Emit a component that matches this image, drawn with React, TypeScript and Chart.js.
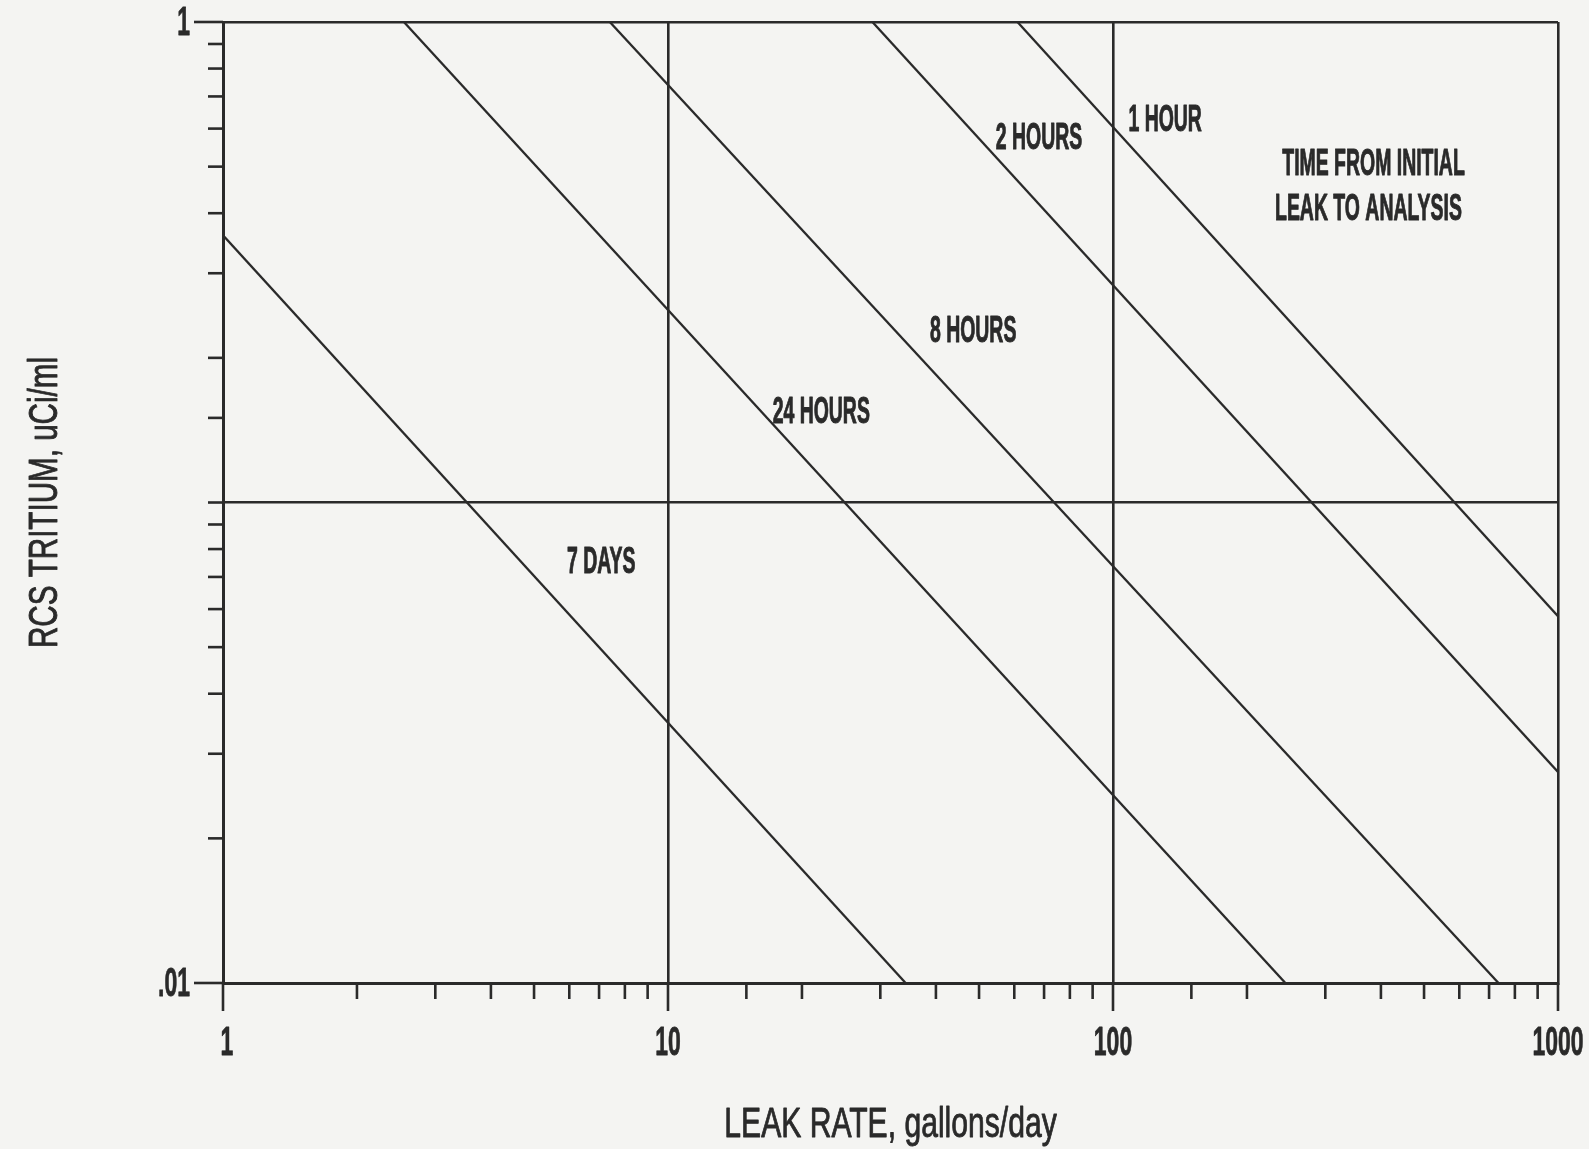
import React, { useEffect, useRef } from 'react';
import { Chart, registerables } from 'chart.js';

Chart.register(...registerables);

// ---- data ----
const seriesNames = ['7 DAYS', '24 HOURS', '8 HOURS', '2 HOURS', '1 HOUR'];
const leak7Days = [1, 34.2];
const tritium7Days = [0.36, 0.01];
const leak24Hours = [2.55, 244];
const tritium24Hours = [1, 0.01];
const leak8Hours = [7.4, 735];
const tritium8Hours = [1, 0.01];
const leak2Hours = [28.8, 1000];
const tritium2Hours = [1, 0.0275];
const leak1Hour = [61, 1000];
const tritium1Hour = [1, 0.058];

const xTickValues = [1, 10, 100, 1000];
const xTickLabels = ['1', '10', '100', '1000'];
const yTickValues = [0.01, 1];
const yTickLabels = ['.01', '1'];

const xTitle = 'LEAK RATE, gallons/day';
const yTitle = 'RCS TRITIUM, uCi/ml';

const noteTexts = ['7 DAYS', '24 HOURS', '8 HOURS', '2 HOURS', '1 HOUR', 'TIME FROM INITIAL', 'LEAK TO ANALYSIS'];
const noteLeak = [7.08, 22.1, 48.5, 68.2, 131, 385, 375];
const noteTritium = [0.0758, 0.1556, 0.2296, 0.578, 0.63, 0.511, 0.411];

// ---- style ----
const W = 1589;
const H = 1149;
const INK = '#2a2a2a';
const BG = '#f4f4f2';
const FONT = '"Liberation Sans", Arial, sans-serif';

const isPow10 = (v: number) => {
  const l = Math.log10(v);
  return Math.abs(l - Math.round(l)) < 1e-9;
};

function drawText(
  ctx: CanvasRenderingContext2D,
  text: string,
  x: number,
  y: number,
  size: number,
  weight: string,
  sx: number,
  align: CanvasTextAlign,
  rotate = 0,
  stroke = 0
) {
  ctx.save();
  ctx.translate(x, y);
  if (rotate) ctx.rotate(rotate);
  ctx.scale(sx, 1);
  ctx.font = `${weight} ${size}px ${FONT}`;
  ctx.textAlign = align;
  ctx.textBaseline = 'middle';
  ctx.fillStyle = INK;
  ctx.fillText(text, 0, 3);
  if (stroke > 0) {
    ctx.strokeStyle = INK;
    ctx.lineWidth = stroke;
    ctx.lineJoin = 'round';
    ctx.strokeText(text, 0, 3);
  }
  ctx.restore();
}

const decorPlugin = {
  id: 'decor',
  beforeDraw(chart: any) {
    const ctx = chart.ctx as CanvasRenderingContext2D;
    ctx.save();
    ctx.fillStyle = BG;
    ctx.fillRect(0, 0, chart.width, chart.height);
    ctx.restore();
  },
  afterDraw(chart: any) {
    const ctx = chart.ctx as CanvasRenderingContext2D;
    const xs = chart.scales.x;
    const ys = chart.scales.y;
    const area = chart.chartArea;
    ctx.save();
    ctx.strokeStyle = INK;
    ctx.lineWidth = 2.6;
    ctx.lineCap = 'butt';
    // tick marks outside the frame
    for (const t of xs.ticks) {
      const px = xs.getPixelForValue(t.value);
      const len = isPow10(t.value) ? 28 : 16;
      ctx.beginPath();
      ctx.moveTo(px, area.bottom);
      ctx.lineTo(px, area.bottom + len);
      ctx.stroke();
    }
    for (const t of ys.ticks) {
      const py = ys.getPixelForValue(t.value);
      const len = t.value === 1 || t.value === 0.01 ? 29 : 15;
      ctx.beginPath();
      ctx.moveTo(area.left, py);
      ctx.lineTo(area.left - len, py);
      ctx.stroke();
    }
    ctx.restore();

    // tick labels
    xTickValues.forEach((v, i) => {
      drawText(ctx, xTickLabels[i], xs.getPixelForValue(v) + (i === 0 ? 4 : 0), area.bottom + 58, 41, 'bold', 0.56, 'center', 0, 0.8);
    });
    yTickValues.forEach((v, i) => {
      drawText(ctx, yTickLabels[i], area.left - 33, ys.getPixelForValue(v) - 1, 41, 'bold', 0.56, 'right', 0, 0.8);
    });

    // axis titles
    drawText(ctx, xTitle, (area.left + area.right) / 2, 1122, 43, 'normal', 0.7, 'center', 0, 0.9);
    drawText(ctx, yTitle, 43, (area.top + area.bottom) / 2, 40, 'normal', 0.74, 'center', -Math.PI / 2, 0.9);

    // annotations
    noteTexts.forEach((t, i) => {
      drawText(ctx, t, xs.getPixelForValue(noteLeak[i]), ys.getPixelForValue(noteTritium[i]), 36, 'bold', 0.54, 'center', 0, 1);
    });
  },
};

const toPoints = (xs: number[], ys: number[]) => xs.map((x, i) => ({ x, y: ys[i] }));

export default function App() {
  const ref = useRef<HTMLCanvasElement | null>(null);

  useEffect(() => {
    if (!ref.current) return;
    const seriesX = [leak7Days, leak24Hours, leak8Hours, leak2Hours, leak1Hour];
    const seriesY = [tritium7Days, tritium24Hours, tritium8Hours, tritium2Hours, tritium1Hour];
    const gridColor = (c: any) => (c.tick && isPow10(c.tick.value) ? INK : 'rgba(0,0,0,0)');
    const chart = new Chart(ref.current, {
      type: 'scatter',
      data: {
        datasets: seriesNames.map((name, i) => ({
          label: name,
          data: toPoints(seriesX[i], seriesY[i]),
          showLine: true,
          borderColor: INK,
          borderWidth: 2.3,
          pointRadius: 0,
          fill: false,
        })),
      },
      options: {
        animation: false,
        responsive: false,
        devicePixelRatio: 1,
        layout: { padding: { top: 22, right: 31, left: 0, bottom: 0 } },
        plugins: { legend: { display: false }, tooltip: { enabled: false } },
        scales: {
          x: {
            type: 'logarithmic',
            min: 1,
            max: 1000,
            ticks: { display: false, autoSkip: false },
            grid: { color: gridColor, lineWidth: 2.6, drawTicks: false },
            border: { display: true, color: INK, width: 3 },
            afterFit: (s: any) => {
              s.height = H - 983;
            },
          },
          y: {
            type: 'logarithmic',
            min: 0.01,
            max: 1,
            ticks: { display: false, autoSkip: false },
            grid: { color: gridColor, lineWidth: 2.6, drawTicks: false },
            border: { display: true, color: INK, width: 3 },
            afterFit: (s: any) => {
              s.width = 223;
            },
          },
        },
      } as any,
      plugins: [decorPlugin],
    });
    return () => chart.destroy();
  }, []);

  return (
    <div style={{ position: 'fixed', left: 0, top: 0, width: W, height: H, background: BG }}>
      <canvas ref={ref} width={W} height={H} style={{ display: 'block', width: W, height: H }} />
    </div>
  );
}
